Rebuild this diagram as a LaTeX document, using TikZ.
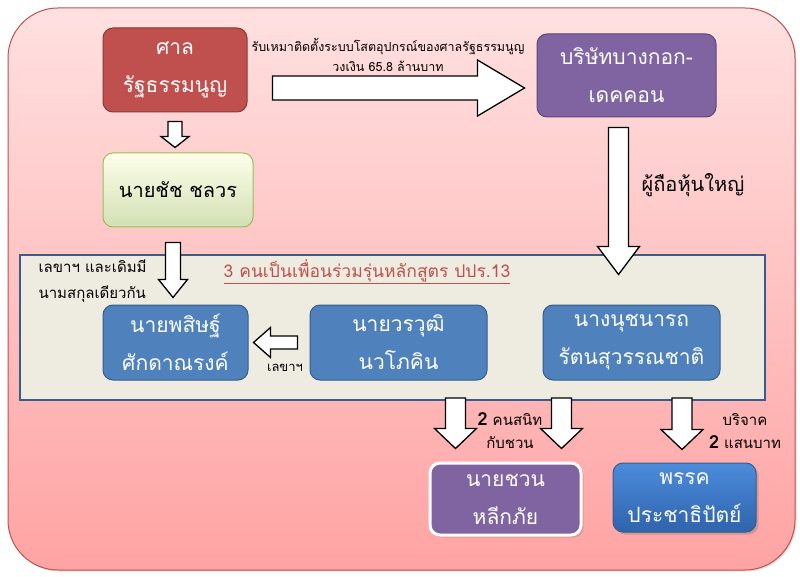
\documentclass[tikz,border=0pt]{standalone}
\usepackage{fontspec}
\setmainfont[Script=Thai]{Loma}
\usetikzlibrary{positioning,calc,shadows}

\definecolor{framered}{HTML}{C0504D}
\definecolor{courtred}{HTML}{C0504D}
\definecolor{courtdark}{HTML}{8C3836}
\definecolor{firmpurple}{HTML}{8064A2}
\definecolor{firmdark}{HTML}{5C4776}
\definecolor{chatgreen}{HTML}{9BBB59}
\definecolor{boxblue}{HTML}{4F81BD}
\definecolor{boxbluedark}{HTML}{385D8A}
\definecolor{panelgrey}{HTML}{EEECE1}
\definecolor{partytop}{HTML}{4C8CDA}
\definecolor{partybottom}{HTML}{2F63AD}

% fat block arrow: from, to, shaft half width, head half width, head length
\newcommand{\fatarrow}[5]{%
  \coordinate (fa-h) at ($(#2)!#5!(#1)$);
  \draw[fatarrow] ($(#1)!#3!90:(#2)$) -- ($(fa-h)!#3!90:(#2)$) -- ($(fa-h)!#4!90:(#2)$)
    -- (#2) -- ($(fa-h)!#4!-90:(#2)$) -- ($(fa-h)!#3!-90:(#2)$) -- ($(#1)!#3!-90:(#2)$) -- cycle;}

\begin{document}
\begin{tikzpicture}[x=1pt, y=-1pt,
  box/.style={draw, rounded corners=10pt, line width=1pt, align=center, text=white,
    font=\fontsize{21}{38}\selectfont, inner sep=0pt},
  fatarrow/.style={draw=black, line width=1.3pt, fill=white, line join=miter},
  note/.style={font=\fontsize{12}{22}\selectfont, align=center}]
  \useasboundingbox (0,0) rectangle (800,577);

  % background frame
  \draw[rounded corners=50pt, top color=red!12, bottom color=red!36, draw=framered, line width=1pt,
    drop shadow={opacity=0.25, shadow xshift=1.5pt, shadow yshift=-1.5pt}]
    (8,8) rectangle (795,570);

  % boxes
  \node[box, fill=courtred, draw=courtdark, minimum width=144, minimum height=84] (court) at (175,70) {ศาล\\รัฐธรรมนูญ};
  \node[box, fill=firmpurple, draw=firmdark, minimum width=179, minimum height=83] (firm) at (626.5,75.5) {บริษัทบางกอก-\\เดคคอน};
  \node[box, top color=green!5!yellow!8, bottom color=chatgreen!45, draw=chatgreen, text=black,
    font=\fontsize{20}{38}\selectfont, minimum width=150, minimum height=74] (chat) at (178,190) {นายชัช ชลวร};

  \node[draw=boxbluedark, line width=2pt, fill=panelgrey, minimum width=745, minimum height=145] (panel) at (392.5,327.5) {};
  \node[box, fill=boxblue, draw=boxbluedark, minimum width=145, minimum height=75] (phisit) at (175.5,342.5) {นายพสิษฐ์\\ศักดาณรงค์};
  \node[box, fill=boxblue, draw=boxbluedark, minimum width=177, minimum height=75] (worawut) at (398.5,342.5) {นายวรวุฒิ\\นวโภคิน};
  \node[box, fill=boxblue, draw=boxbluedark, minimum width=177, minimum height=75] (nuch) at (631.5,342.5) {นางนุชนารถ\\รัตนสุวรรณชาติ};

  \node[box, fill=firmpurple, draw=white, line width=3pt, drop shadow={opacity=0.3},
    minimum width=151, minimum height=72] (chuan) at (505.5,499) {นายชวน\\หลีกภัย};
  \node[box, top color=partytop, bottom color=partybottom, draw=boxbluedark,
    drop shadow={opacity=0.4}, minimum width=143, minimum height=69] (phak) at (684.5,497.5) {พรรค\\ประชาธิปัตย์};

  % labels
  \node[note, font=\fontsize{12.5}{20}\selectfont] (contract) at (388,55) {รับเหมาติดตั้งระบบโสตอุปกรณ์ของศาลรัฐธรรมนูญ\\วงเงิน 65.8 ล้านบาท};
  \node[note, font=\fontsize{20}{22}\selectfont] (holder) at (693,185) {ผู้ถือหุ้นใหญ่};
  \node[note, font=\fontsize{15}{26}\selectfont, align=left, anchor=west] (kin) at (35,281) {เลขาฯ และเดิมมี\\นามสกุลเดียวกัน};
  \node[note, font=\fontsize{17.5}{20}\selectfont, text=framered] (title) at (367,272) {\underline{3 คนเป็นเพื่อนร่วมรุ่นหลักสูตร ปปร.13}};
  \node[note, font=\fontsize{13}{20}\selectfont] (sec) at (285,368) {เลขาฯ};
  \node[note, font=\fontsize{15}{23}\selectfont] (close) at (510,431) {{\fontsize{18}{20}\selectfont\bfseries 2} คนสนิท\\กับชวน};
  \node[note, font=\fontsize{15}{23}\selectfont] (donate) at (745,431) {บริจาค\\{\fontsize{18}{20}\selectfont\bfseries 2} แสนบาท};

  % block arrows
  \coordinate (a1s) at ($(court.east)+(25,18)$);
  \coordinate (a1e) at ($(a1s -| firm.west)+(-12,0)$);
  \fatarrow{a1s}{a1e}{12pt}{28pt}{47pt}

  \coordinate (a2s) at ($(court.south)+(0,9)$);
  \coordinate (a2e) at ($(court.south |- chat.north)+(0,-5)$);
  \fatarrow{a2s}{a2e}{7pt}{14pt}{11pt}

  \coordinate (a3s) at ($(chat.south)+(-5,15)$);
  \coordinate (a3e) at ($(a3s |- phisit.north)+(0,-7)$);
  \fatarrow{a3s}{a3e}{7.5pt}{14.5pt}{18pt}

  \coordinate (a4s) at ($(firm.south)+(-8,10)$);
  \coordinate (a4e) at ($(a4s |- nuch.north)+(0,-30)$);
  \fatarrow{a4s}{a4e}{10pt}{21pt}{28pt}

  \coordinate (a5s) at ($(worawut.west)+(-12,0)$);
  \coordinate (a5e) at ($(phisit.east)+(5,0)$);
  \fatarrow{a5s}{a5e}{6.5pt}{15pt}{17pt}

  \coordinate (a6e) at ($(chuan.north)+(-50,-13)$);
  \coordinate (a6s) at ($(a6e |- panel.south)+(0,-3)$);
  \fatarrow{a6s}{a6e}{10pt}{21pt}{20pt}

  \coordinate (a7e) at ($(chuan.north)+(56,-13)$);
  \coordinate (a7s) at ($(a7e |- panel.south)+(0,-3)$);
  \fatarrow{a7s}{a7e}{10pt}{21pt}{20pt}

  \coordinate (a8e) at ($(phak.north)+(-2.5,-13)$);
  \coordinate (a8s) at ($(a8e |- panel.south)+(0,-3)$);
  \fatarrow{a8s}{a8e}{10pt}{21pt}{20pt}
\end{tikzpicture}
\end{document}
